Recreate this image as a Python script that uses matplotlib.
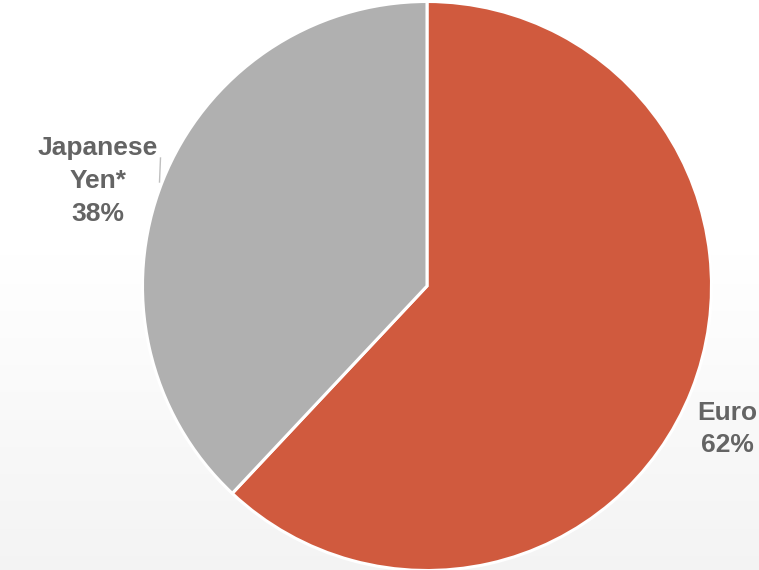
import matplotlib

matplotlib.use("Agg")
import matplotlib.pyplot as plt
import numpy as np

labels = ["Euro", "Japanese\nYen*"]
shares = [62, 38]
colors = ["#D05A3E", "#B0B0B0"]

W, H = 759, 570
fig = plt.figure(figsize=(W / 100, H / 100), dpi=100)
ax = fig.add_axes([0, 0, 1, 1])

# soft vertical gradient in the background (white top, light grey bottom)
grad = np.linspace(0, 1, 256)
grad = np.clip((grad - 0.45) / 0.55, 0, 1)[:, None]
shade = 1 - 0.045 * grad
bg = np.dstack([shade, shade, shade])
ax.imshow(bg, extent=[0, W, 0, H], origin="upper", aspect="auto", zorder=0)

wedges, _ = ax.pie(
    shares,
    colors=colors,
    startangle=90,
    counterclock=False,
    center=(427, H - 286),
    radius=284.5,
    frame=True,
    wedgeprops=dict(edgecolor="white", linewidth=2.2),
)
for w in wedges:
    w.set_zorder(2)

txt_kw = dict(ha="center", va="center", fontsize=19, fontweight="bold",
              color="#646464", family=["Liberation Sans", "DejaVu Sans"],
              linespacing=1.45)
ax.text(98, H - 181, f"{labels[1]}\n{shares[1]}%", **txt_kw)
ax.text(727, H - 429, f"{labels[0]}\n{shares[0]}%", **txt_kw)

# leader line for the Yen label
ax.plot([160.5, 159.5], [H - 158, H - 182], color="#BFBFBF", lw=1, zorder=3)

ax.set_xlim(0, W)
ax.set_ylim(0, H)
ax.set_aspect("equal")
ax.axis("off")

fig.savefig("out.png", dpi=100)
plt.close(fig)
